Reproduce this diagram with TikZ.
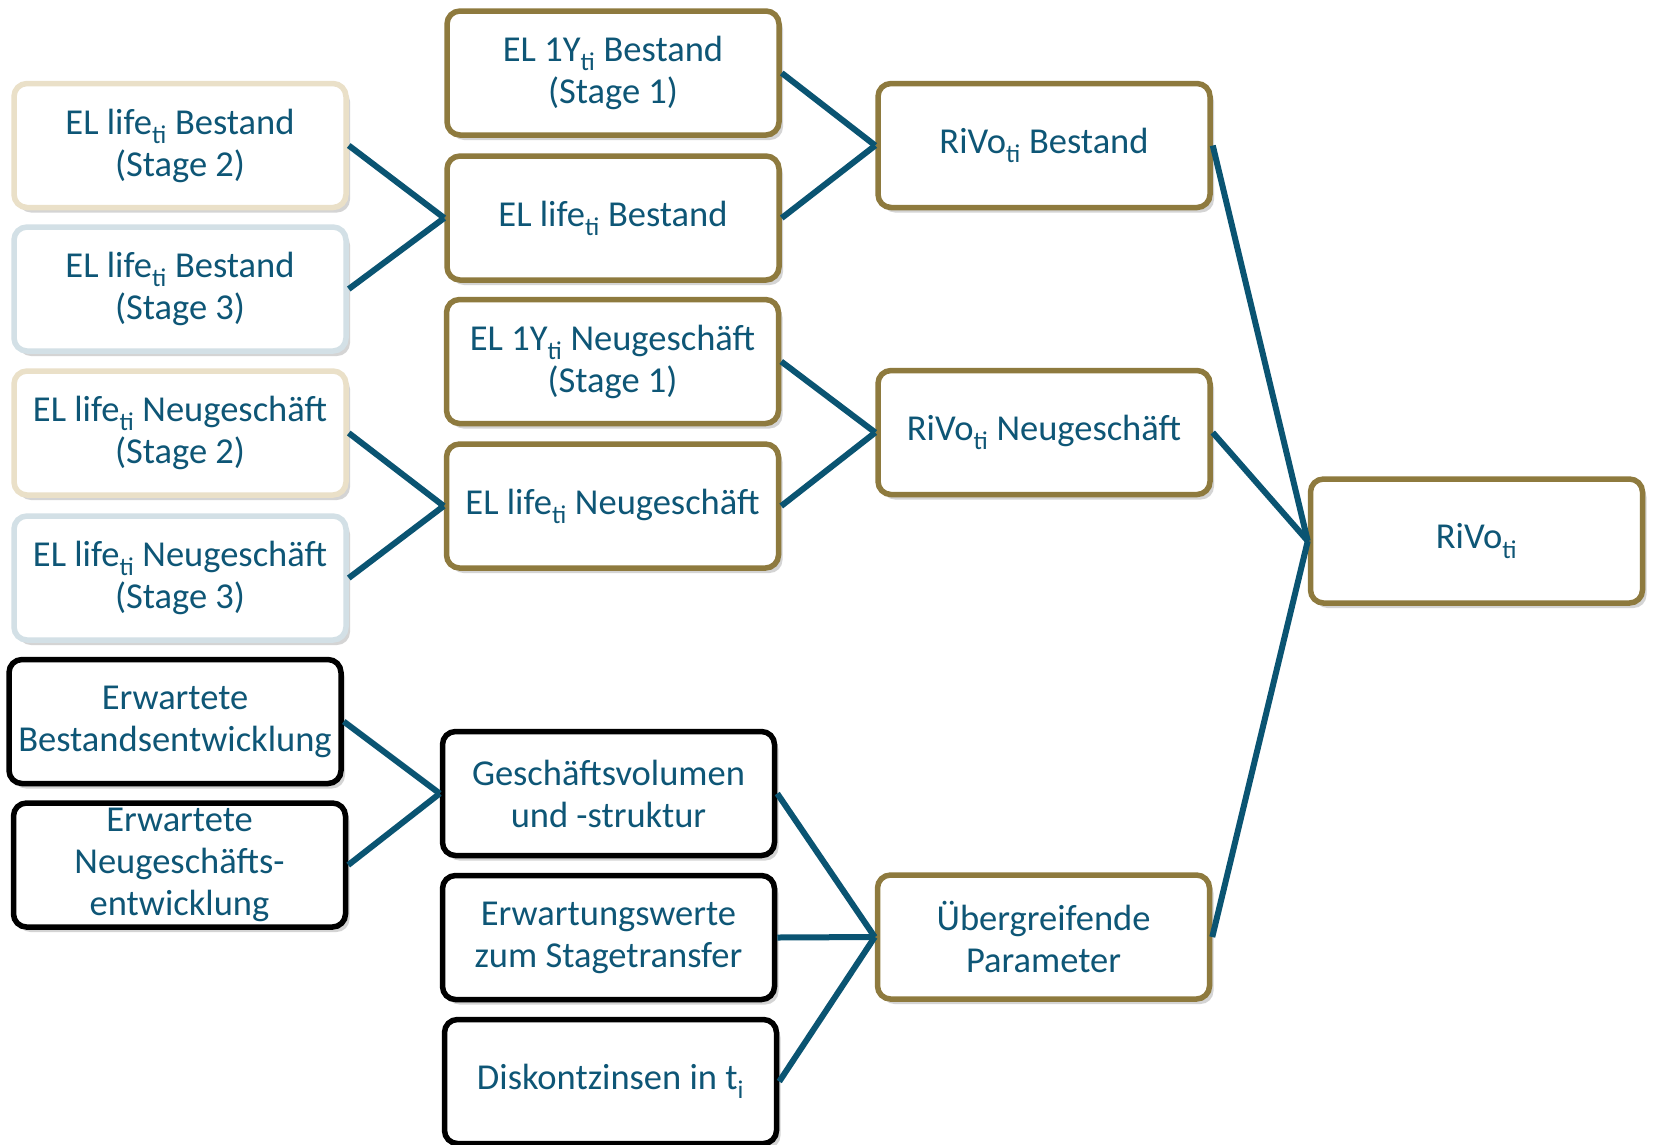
\documentclass[tikz,border=0pt]{standalone}
\usepackage{fontspec}
\setmainfont{Carlito}
\usetikzlibrary{shadows}
\definecolor{txt}{RGB}{14,86,118}
\definecolor{ln}{RGB}{10,84,114}
\definecolor{gold}{RGB}{142,122,62}
\definecolor{beige}{RGB}{234,224,200}
\definecolor{lblue}{RGB}{211,224,230}
\newcommand{\ti}{\textsubscript{ti}}
\begin{document}
\begin{tikzpicture}[x=1pt,y=-1pt,
  box/.style={draw, line width=5.5pt, rounded corners=13pt, fill=white,
    minimum width=332pt, minimum height=124pt, align=center, text=txt,
    font=\fontsize{36.5}{42}\selectfont, inner sep=0pt,
    drop shadow={shadow xshift=4pt, shadow yshift=-5pt, opacity=0.3, fill=black!55}},
  gbox/.style={box, draw=gold},
  bbox/.style={box, draw=beige},
  lbbox/.style={box, draw=lblue},
  kbox/.style={box, draw=black},
  conn/.style={draw=ln, line width=6pt}]
\useasboundingbox[fill=white] (0,0) rectangle (1654,1144);

\node[bbox]  (L1) at (180,145.5) {EL life\ti{} Bestand\\(Stage 2)};
\node[lbbox] (L2) at (180,289)   {EL life\ti{} Bestand\\(Stage 3)};
\node[bbox]  (L3) at (180,433)   {EL life\ti{} Neugeschäft\\(Stage 2)};
\node[lbbox] (L4) at (180,578)   {EL life\ti{} Neugeschäft\\(Stage 3)};
\node[kbox]  (L5) at (175,721.5) {Erwartete\\Bestandsentwicklung};
\node[kbox]  (L6) at (179.5,865) {Erwartete\\Neugeschäfts-\\entwicklung};

\node[gbox] (M1) at (613,73)     {EL 1Y\ti{} Bestand\\(Stage 1)};
\node[gbox] (M2) at (613,218)    {EL life\ti{} Bestand};
\node[gbox] (M3) at (612.5,361.5){EL 1Y\ti{} Neugeschäft\\(Stage 1)};
\node[gbox] (M4) at (612.5,506)  {EL life\ti{} Neugeschäft};
\node[kbox] (M5) at (608.5,793.5){Geschäftsvolumen\\und -struktur};
\node[kbox] (M6) at (608.5,937.5){Erwartungswerte\\zum Stagetransfer};
\node[kbox] (M7) at (610.5,1081.5){Diskontzinsen in t\textsubscript{i}};

\node[gbox] (R1) at (1044,145.5) {RiVo\ti{} Bestand};
\node[gbox] (R2) at (1044,432.5) {RiVo\ti{} Neugeschäft};
\node[gbox] (R3) at (1043.5,937) {Übergreifende\\Parameter};
\node[gbox] (R4) at (1476.5,541) {RiVo\ti};

\draw[conn] (L1.east) -- (M2.west);
\draw[conn] (L2.east) -- (M2.west);
\draw[conn] (L3.east) -- (M4.west);
\draw[conn] (L4.east) -- (M4.west);
\draw[conn] (L5.east) -- (M5.west);
\draw[conn] (L6.east) -- (M5.west);
\draw[conn] (M1.east) -- (R1.west);
\draw[conn] (M2.east) -- (R1.west);
\draw[conn] (M3.east) -- (R2.west);
\draw[conn] (M4.east) -- (R2.west);
\draw[conn] (M5.east) -- (R3.west);
\draw[conn] (M6.east) -- (R3.west);
\draw[conn] (M7.east) -- (R3.west);
\draw[conn] (R1.east) -- (R4.west);
\draw[conn] (R2.east) -- (R4.west);
\draw[conn] (R3.east) -- (R4.west);
\end{tikzpicture}
\end{document}
